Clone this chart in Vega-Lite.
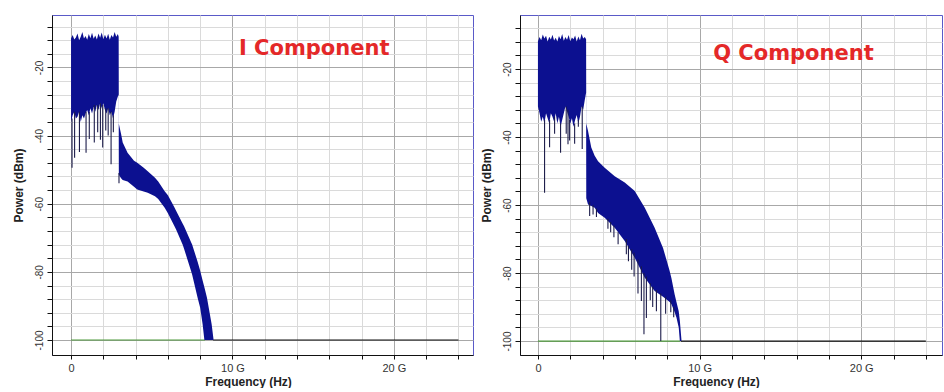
{
  "$schema": "https://vega.github.io/schema/vega-lite/v6.json",
  "padding": {"left": 11, "top": 14, "right": 0, "bottom": 0},
  "spacing": 5,
  "background": "white",
  "config": {
    "view": {"stroke": "#5a5ac8", "strokeWidth": 1},
    "axis": {
      "labelFont": "Liberation Sans",
      "titleFont": "Liberation Sans",
      "labelColor": "#333333",
      "titleColor": "#222222",
      "titleFontWeight": "bold",
      "titleFontSize": 12,
      "domainColor": "#111111",
      "tickColor": "#111111",
      "labelOverlap": false,
      "labelFlush": false
    }
  },
  "datasets": {
    "I_band": [
      {"f": 0.00, "hi": -11.5, "lo": -36},
      {"f": 0.10, "hi": -10.5, "lo": -34},
      {"f": 0.20, "hi": -11.8, "lo": -33},
      {"f": 0.30, "hi": -11.2, "lo": -35},
      {"f": 0.40, "hi": -10.0, "lo": -34.5},
      {"f": 0.50, "hi": -12.0, "lo": -33},
      {"f": 0.60, "hi": -11.0, "lo": -36},
      {"f": 0.70, "hi": -9.6, "lo": -34},
      {"f": 0.80, "hi": -11.5, "lo": -35},
      {"f": 0.90, "hi": -10.8, "lo": -33.5},
      {"f": 1.00, "hi": -11.9, "lo": -32.5},
      {"f": 1.10, "hi": -10.2, "lo": -34},
      {"f": 1.20, "hi": -11.4, "lo": -32},
      {"f": 1.30, "hi": -9.8, "lo": -33.5},
      {"f": 1.40, "hi": -11.6, "lo": -31.5},
      {"f": 1.50, "hi": -10.6, "lo": -33},
      {"f": 1.60, "hi": -11.8, "lo": -31},
      {"f": 1.70, "hi": -10.0, "lo": -32.5},
      {"f": 1.80, "hi": -11.3, "lo": -30.5},
      {"f": 1.90, "hi": -9.7, "lo": -32},
      {"f": 2.00, "hi": -11.7, "lo": -30.5},
      {"f": 2.10, "hi": -10.4, "lo": -32.5},
      {"f": 2.20, "hi": -11.5, "lo": -33.5},
      {"f": 2.30, "hi": -10.1, "lo": -32},
      {"f": 2.40, "hi": -11.9, "lo": -34},
      {"f": 2.50, "hi": -10.5, "lo": -33},
      {"f": 2.60, "hi": -11.2, "lo": -35},
      {"f": 2.70, "hi": -9.6, "lo": -33},
      {"f": 2.80, "hi": -11.0, "lo": -30},
      {"f": 2.90, "hi": -10.2, "lo": -28.5},
      {"f": 2.95, "hi": -11.0, "lo": -28},
      {"f": 2.96, "hi": -36.5, "lo": -51.5},
      {"f": 3.10, "hi": -39.5, "lo": -52.5},
      {"f": 3.20, "hi": -42, "lo": -53},
      {"f": 3.50, "hi": -45, "lo": -53.5},
      {"f": 3.90, "hi": -47.4, "lo": -55},
      {"f": 4.10, "hi": -48, "lo": -55.8},
      {"f": 4.50, "hi": -49.4, "lo": -56.4},
      {"f": 4.75, "hi": -50.5, "lo": -56.8},
      {"f": 5.20, "hi": -52.4, "lo": -57.8},
      {"f": 5.40, "hi": -53.5, "lo": -58.6},
      {"f": 5.80, "hi": -56.3, "lo": -61.2},
      {"f": 6.00, "hi": -57.5, "lo": -62.8},
      {"f": 6.40, "hi": -61, "lo": -66.5},
      {"f": 6.50, "hi": -62, "lo": -67.5},
      {"f": 6.91, "hi": -65.8, "lo": -72},
      {"f": 7.00, "hi": -66.6, "lo": -73.2},
      {"f": 7.43, "hi": -71.2, "lo": -79.7},
      {"f": 7.50, "hi": -72, "lo": -80.8},
      {"f": 7.84, "hi": -77, "lo": -87.6},
      {"f": 8.00, "hi": -79.7, "lo": -90.5},
      {"f": 8.15, "hi": -82.5, "lo": -95.4},
      {"f": 8.26, "hi": -84.5, "lo": -100},
      {"f": 8.42, "hi": -87.6, "lo": -100},
      {"f": 8.71, "hi": -95.4, "lo": -100},
      {"f": 8.83, "hi": -100, "lo": -100}
    ],
    "I_spikes": [
      {"f": 0.06, "top": -35, "bot": -49.4},
      {"f": 0.22, "top": -33, "bot": -46.5},
      {"f": 0.52, "top": -33, "bot": -44.8},
      {"f": 0.93, "top": -33, "bot": -45},
      {"f": 1.13, "top": -33, "bot": -41},
      {"f": 1.44, "top": -31, "bot": -42},
      {"f": 1.65, "top": -31, "bot": -39},
      {"f": 1.82, "top": -30.5, "bot": -41.2},
      {"f": 1.96, "top": -31, "bot": -43.5},
      {"f": 2.15, "top": -32, "bot": -38.5},
      {"f": 2.30, "top": -32, "bot": -40},
      {"f": 2.48, "top": -33, "bot": -48.4},
      {"f": 2.62, "top": -34, "bot": -39},
      {"f": 2.97, "top": -51, "bot": -54}
    ],
    "I_floor": [
      {"f0": 0, "f1": 8.3, "p": -100, "c": "#4f9a3c"},
      {"f0": 8.8, "f1": 24, "p": -100, "c": "#111111"}
    ],
    "I_text": [
      {"f": 10.4, "p": -14.6, "t": "I Component"}
    ],
    "Q_band": [
      {"f": 0.00, "hi": -11.8, "lo": -31},
      {"f": 0.10, "hi": -10.6, "lo": -33},
      {"f": 0.20, "hi": -11.5, "lo": -35.5},
      {"f": 0.30, "hi": -9.8, "lo": -34},
      {"f": 0.40, "hi": -11.0, "lo": -36},
      {"f": 0.50, "hi": -10.2, "lo": -33},
      {"f": 0.60, "hi": -11.9, "lo": -34.5},
      {"f": 0.70, "hi": -10.5, "lo": -36},
      {"f": 0.80, "hi": -11.3, "lo": -33},
      {"f": 0.90, "hi": -9.9, "lo": -34},
      {"f": 1.00, "hi": -11.6, "lo": -35.5},
      {"f": 1.10, "hi": -10.8, "lo": -33},
      {"f": 1.20, "hi": -11.9, "lo": -36},
      {"f": 1.30, "hi": -10.3, "lo": -34},
      {"f": 1.40, "hi": -11.2, "lo": -37},
      {"f": 1.50, "hi": -9.7, "lo": -35},
      {"f": 1.60, "hi": -11.7, "lo": -33},
      {"f": 1.70, "hi": -10.6, "lo": -31},
      {"f": 1.80, "hi": -11.4, "lo": -32.5},
      {"f": 1.90, "hi": -10.0, "lo": -34},
      {"f": 2.00, "hi": -11.8, "lo": -36},
      {"f": 2.10, "hi": -10.7, "lo": -34.5},
      {"f": 2.20, "hi": -11.2, "lo": -37},
      {"f": 2.30, "hi": -10.1, "lo": -35},
      {"f": 2.40, "hi": -11.9, "lo": -33.5},
      {"f": 2.50, "hi": -10.4, "lo": -36},
      {"f": 2.60, "hi": -11.5, "lo": -34},
      {"f": 2.70, "hi": -9.6, "lo": -31},
      {"f": 2.80, "hi": -11.0, "lo": -32},
      {"f": 2.90, "hi": -10.6, "lo": -29},
      {"f": 2.98, "hi": -11.2, "lo": -27},
      {"f": 2.99, "hi": -36, "lo": -58},
      {"f": 3.10, "hi": -38.2, "lo": -59.8},
      {"f": 3.30, "hi": -43.1, "lo": -60.3},
      {"f": 3.51, "hi": -45.5, "lo": -60.8},
      {"f": 3.72, "hi": -47.1, "lo": -62.3},
      {"f": 4.13, "hi": -49, "lo": -63.7},
      {"f": 4.75, "hi": -51.5, "lo": -66.7},
      {"f": 5.37, "hi": -53.4, "lo": -70.6},
      {"f": 5.99, "hi": -55.9, "lo": -75.5},
      {"f": 6.61, "hi": -60.8, "lo": -81.4},
      {"f": 7.22, "hi": -66.7, "lo": -85.3},
      {"f": 7.74, "hi": -72.6, "lo": -87},
      {"f": 8.15, "hi": -79.4, "lo": -88.5},
      {"f": 8.26, "hi": -81.5, "lo": -89.2},
      {"f": 8.46, "hi": -86.3, "lo": -91.5},
      {"f": 8.57, "hi": -88.5, "lo": -93.1},
      {"f": 8.71, "hi": -91.2, "lo": -96},
      {"f": 8.78, "hi": -94, "lo": -100},
      {"f": 8.88, "hi": -99.7, "lo": -100}
    ],
    "Q_spikes": [
      {"f": 0.41, "top": -35, "bot": -56.4},
      {"f": 0.72, "top": -35, "bot": -43},
      {"f": 1.03, "top": -34, "bot": -39},
      {"f": 1.40, "top": -36, "bot": -44.6},
      {"f": 1.75, "top": -31, "bot": -39},
      {"f": 1.86, "top": -32, "bot": -42.1},
      {"f": 1.96, "top": -35, "bot": -41},
      {"f": 2.27, "top": -36, "bot": -42},
      {"f": 2.50, "top": -35, "bot": -37},
      {"f": 2.74, "top": -31, "bot": -43.5},
      {"f": 3.20, "top": -59, "bot": -63.2},
      {"f": 3.41, "top": -60, "bot": -62.8},
      {"f": 3.62, "top": -61, "bot": -63.5},
      {"f": 4.33, "top": -64, "bot": -67},
      {"f": 4.50, "top": -65, "bot": -68},
      {"f": 4.70, "top": -66, "bot": -69.5},
      {"f": 4.96, "top": -68, "bot": -71.5},
      {"f": 5.47, "top": -70, "bot": -74.5},
      {"f": 5.60, "top": -72, "bot": -76.5},
      {"f": 5.80, "top": -73, "bot": -79},
      {"f": 5.95, "top": -74, "bot": -81},
      {"f": 6.19, "top": -76, "bot": -86},
      {"f": 6.40, "top": -78, "bot": -88.2},
      {"f": 6.56, "top": -80, "bot": -98},
      {"f": 6.71, "top": -81, "bot": -93.2},
      {"f": 6.95, "top": -83, "bot": -88},
      {"f": 7.10, "top": -84, "bot": -90},
      {"f": 7.33, "top": -85, "bot": -91.2},
      {"f": 7.60, "top": -86, "bot": -100},
      {"f": 7.90, "top": -87, "bot": -92},
      {"f": 8.22, "top": -88, "bot": -91.5},
      {"f": 8.40, "top": -90, "bot": -93}
    ],
    "Q_floor": [
      {"f0": 0, "f1": 8.8, "p": -100, "c": "#4f9a3c"},
      {"f0": 8.85, "f1": 24, "p": -100, "c": "#111111"}
    ],
    "Q_text": [
      {"f": 10.84, "p": -15.6, "t": "Q Component"}
    ]
  },
  "hconcat": [
    {
      "width": 421,
      "height": 340,
      "encoding": {
        "x": {
          "type": "quantitative",
          "scale": {"domain": [-1.18, 24.9], "nice": false, "zero": false},
          "axis": {
            "values": [0, 2, 4, 6, 8, 10, 12, 14, 16, 18, 20, 22, 24],
            "labelExpr": "datum.value == 0 ? '0' : (datum.value % 10 == 0 ? datum.value + ' G' : '')",
            "title": "Frequency (Hz)",
            "titleX": 196,
            "titlePadding": 3,
            "labelFontSize": 11,
            "tickSize": 4,
            "labelPadding": 3,
            "grid": true,
            "gridColor": {"condition": {"test": "datum.value % 10 == 0", "value": "#a8a8a8"}, "value": "#dadada"}
          }
        },
        "y": {
          "type": "quantitative",
          "scale": {"domain": [-104.4, -4.6], "nice": false, "zero": false},
          "axis": {
            "values": [-100, -96, -92, -88, -84, -80, -76, -72, -68, -64, -60, -56, -52, -48, -44, -40, -36, -32, -28, -24, -20, -16, -12, -8],
            "labelExpr": "datum.value % 20 == 0 ? datum.value : ''",
            "labelAngle": -90,
            "labelFontSize": 10,
            "tickSize": 5,
            "labelPadding": 3,
            "title": "Power (dBm)",
            "titlePadding": 9,
            "grid": true,
            "gridColor": {"condition": {"test": "datum.value % 20 == 0", "value": "#a8a8a8"}, "value": "#dadada"}
          }
        }
      },
      "layer": [
        {
          "data": {"name": "I_floor"},
          "mark": {"type": "rule", "strokeWidth": 1.2},
          "encoding": {
            "x": {"field": "f0"},
            "x2": {"field": "f1"},
            "y": {"field": "p"},
            "color": {"field": "c", "type": "nominal", "scale": null}
          }
        },
        {
          "data": {"name": "I_band"},
          "mark": {"type": "area", "color": "#0c1090", "interpolate": "linear"},
          "encoding": {
            "x": {"field": "f"},
            "y": {"field": "hi"},
            "y2": {"field": "lo"}
          }
        },
        {
          "data": {"name": "I_spikes"},
          "mark": {"type": "rule", "color": "#1c1c4a", "strokeWidth": 1.1},
          "encoding": {
            "x": {"field": "f"},
            "y": {"field": "top"},
            "y2": {"field": "bot"}
          }
        },
        {
          "data": {"name": "I_text"},
          "mark": {"type": "text", "align": "left", "baseline": "middle", "font": "DejaVu Sans", "fontWeight": "bold", "fontSize": 21, "color": "#e42828"},
          "encoding": {
            "x": {"field": "f"},
            "y": {"field": "p"},
            "text": {"field": "t"}
          }
        }
      ]
    },
    {
      "width": 422,
      "height": 340,
      "encoding": {
        "x": {
          "type": "quantitative",
          "scale": {"domain": [-1.11, 25.0], "nice": false, "zero": false},
          "axis": {
            "values": [0, 2, 4, 6, 8, 10, 12, 14, 16, 18, 20, 22, 24],
            "labelExpr": "datum.value == 0 ? '0' : (datum.value % 10 == 0 ? datum.value + ' G' : '')",
            "title": "Frequency (Hz)",
            "titleX": 196,
            "titlePadding": 3,
            "labelFontSize": 11,
            "tickSize": 4,
            "labelPadding": 3,
            "grid": true,
            "gridColor": {"condition": {"test": "datum.value % 10 == 0", "value": "#a8a8a8"}, "value": "#dadada"}
          }
        },
        "y": {
          "type": "quantitative",
          "scale": {"domain": [-104.1, -4.1], "nice": false, "zero": false},
          "axis": {
            "values": [-100, -96, -92, -88, -84, -80, -76, -72, -68, -64, -60, -56, -52, -48, -44, -40, -36, -32, -28, -24, -20, -16, -12, -8],
            "labelExpr": "datum.value % 20 == 0 ? datum.value : ''",
            "labelAngle": -90,
            "labelFontSize": 10,
            "tickSize": 5,
            "labelPadding": 3,
            "title": "Power (dBm)",
            "titlePadding": 9,
            "grid": true,
            "gridColor": {"condition": {"test": "datum.value % 20 == 0", "value": "#a8a8a8"}, "value": "#dadada"}
          }
        }
      },
      "layer": [
        {
          "data": {"name": "Q_floor"},
          "mark": {"type": "rule", "strokeWidth": 1.2},
          "encoding": {
            "x": {"field": "f0"},
            "x2": {"field": "f1"},
            "y": {"field": "p"},
            "color": {"field": "c", "type": "nominal", "scale": null}
          }
        },
        {
          "data": {"name": "Q_band"},
          "mark": {"type": "area", "color": "#0c1090", "interpolate": "linear"},
          "encoding": {
            "x": {"field": "f"},
            "y": {"field": "hi"},
            "y2": {"field": "lo"}
          }
        },
        {
          "data": {"name": "Q_spikes"},
          "mark": {"type": "rule", "color": "#1c1c4a", "strokeWidth": 1.1},
          "encoding": {
            "x": {"field": "f"},
            "y": {"field": "top"},
            "y2": {"field": "bot"}
          }
        },
        {
          "data": {"name": "Q_text"},
          "mark": {"type": "text", "align": "left", "baseline": "middle", "font": "DejaVu Sans", "fontWeight": "bold", "fontSize": 21, "color": "#e42828"},
          "encoding": {
            "x": {"field": "f"},
            "y": {"field": "p"},
            "text": {"field": "t"}
          }
        }
      ]
    }
  ]
}
